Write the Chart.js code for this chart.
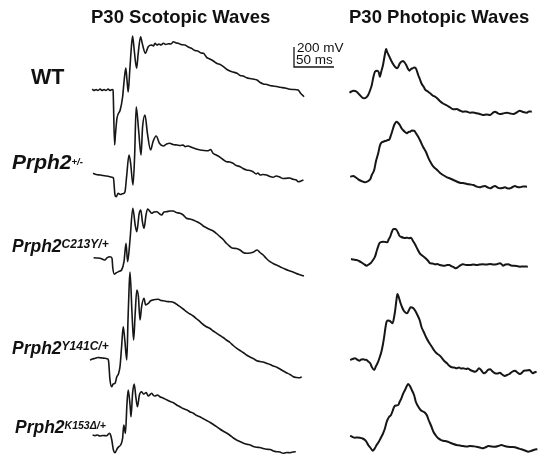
<!DOCTYPE html>
<html>
<head>
<meta charset="utf-8">
<script src="https://cdn.jsdelivr.net/npm/chart.js@4.4.0/dist/chart.umd.min.js"></script>
<style>
  html, body { margin: 0; padding: 0; background: #fff; }
  #fig { position: relative; width: 550px; height: 465px; overflow: hidden; font-family: "Liberation Sans", Arial, sans-serif; color: #111; }
  #fig canvas { position: absolute; left: 0; top: 0; }
  .txt { position: absolute; white-space: nowrap; line-height: 1; }
  .b { font-weight: bold; }
  .it { font-style: italic; }
  .sup { position: relative; }
</style>
</head>
<body>
<div id="fig"></div>
<script>
// ---- data (time in ms from flash, amplitude in mV) ----
const panelTitles = ['P30 Scotopic Waves', 'P30 Photopic Waves'];
const genotypes = ['WT', 'Prph2', 'Prph2', 'Prph2', 'Prph2'];
const genotypeSup = ['', '+/-', 'C213Y/+', 'Y141C/+', 'K153\u0394/+'];
const scaleBar = { mV: 200, ms: 50 };

const wtScot = [[-26,10],[-24,-5],[-21,5],[-19,-5],[-16,10],[-14,-5],[-11,5],[-9,-5],[-6,10],[-4,-5],[-1,5],[0,0],[2,-550],[3,-450],[5,-280],[9,-200],[12,-70],[14,100],[16,220],[17.5,100],[19,-20],[21,200],[23,433],[24.5,540],[26.5,400],[29.5,217],[31.5,367],[34.5,533],[36.5,467],[40.5,367],[44,433],[48.5,450],[50.5,440],[52.5,467],[55,450],[57.5,460],[60,450],[63,467],[66,455],[69,463],[72.5,460],[75.5,483],[79,470],[81.5,467],[85,455],[90,450],[94,430],[98,417],[102.5,395],[106,390],[110,370],[113,367],[117,327],[121,310],[125.5,290],[130,265],[134,255],[138,233],[142.5,205],[146,190],[150,180],[155,167],[159,145],[162.5,140],[167,123],[171,115],[175,110],[180,100],[184,75],[188,60],[192.5,55],[196,45],[200,40],[205,35],[209,27],[215,20],[221,7],[226,5],[231.5,0],[234.5,-33],[236,-45],[239,-67]];
const hetScot = [[-25,37],[-21,25],[-16,20],[-12.5,15],[-8,10],[-5,5],[-1.5,-3],[0.5,-10],[2.5,-180],[4,-197],[6.5,-163],[9,-175],[11,-170],[13,-165],[15,-147],[17,3],[20,220],[22,140],[25,-80],[27,203],[29,703],[32,470],[35,220],[37,503],[40,620],[43,437],[47,270],[50,353],[54,410],[58,337],[63,310],[67,330],[71,337],[75,325],[80,320],[84,315],[87.5,320],[90,303],[94,310],[98,297],[104,280],[109,270],[114,265],[119,263],[122,275],[125,237],[129,220],[134,197],[137.5,175],[142,153],[146,150],[150,137],[154,115],[159,103],[162.5,85],[167,70],[171,65],[175,53],[179,30],[181,40],[184,20],[187.5,25],[192,20],[196,5],[200,-3],[204,10],[209,-3],[212.5,-15],[217,-13],[221,-10],[225,-23],[229,-30],[231.5,-47],[235,-40],[238,-30]];
const c213yScot = [[-23,3],[-19,0],[-15,-3],[-11,-15],[-9,-20],[-6,3],[-2.5,13],[0,-3],[1,-100],[3,-163],[5,-150],[8,-137],[10,-130],[12,-120],[15,-37],[17.5,147],[19.5,-37],[22.5,180],[26,497],[29,330],[31,263],[34,447],[36,480],[38,363],[40,297],[42.5,430],[44.5,490],[47.5,465],[49.5,447],[52.5,460],[56,463],[59,445],[62,430],[65,460],[68,463],[72.5,470],[76.5,470],[80.5,455],[85,447],[89,430],[93,397],[97.5,390],[101.5,380],[105.5,365],[110,347],[114,320],[118,303],[122.5,285],[126.5,270],[130.5,245],[135,213],[139,185],[143,147],[147.5,115],[151.5,97],[155.5,95],[160,80],[164,55],[168,47],[172.5,50],[176.5,57],[181.5,80],[185,55],[189,30],[193,-5],[197.5,-37],[204,-65],[210,-87],[216,-110],[222.5,-130],[227.5,-145],[233,-163],[240,-180]];
const y141cScot = [[-22.5,-20],[-19.5,-10],[-16,-3],[-13,5],[-10,3],[-7,0],[-4,-3],[-1,-7],[0.5,-20],[2.5,-220],[4.5,-287],[6.5,-260],[9,-250],[11,-187],[13,-160],[15,-87],[17,113],[19,313],[21,180],[23.5,-20],[25,380],[26.5,730],[27.5,860],[30,447],[32,180],[34,447],[36,680],[38,613],[40,380],[42,513],[45,597],[47,530],[50.5,547],[53,570],[56,580],[59,585],[63,587],[66,575],[69,573],[73,565],[77.5,563],[80.5,560],[84,547],[87,530],[90,513],[94,490],[98,463],[102.5,440],[106.5,420],[111,390],[115,363],[119,335],[123,313],[127.5,295],[131.5,270],[136,247],[140,225],[144,205],[148,180],[152.5,155],[156.5,125],[161,97],[165,75],[169,55],[173,30],[177.5,10],[181.5,-5],[186,-27],[190,-35],[194,-40],[198,-53],[202.5,-65],[206.5,-80],[211,-93],[215,-110],[219,-130],[223,-147],[227.5,-165],[231.5,-187],[236,-195],[240,-197],[242,-187]];
const k153Scot = [[-23,0],[-20,-7],[-17,0],[-14,-10],[-10,-5],[-5.5,-7],[-2,17],[-0.5,0],[1,-50],[3,-150],[5,-177],[8,-133],[10,-115],[12,-100],[14.5,-33],[16,100],[18,17],[20,317],[21.5,450],[24,283],[25,183],[27,417],[29,510],[31,383],[33,283],[35.5,400],[38,433],[40,415],[41,410],[44,425],[46.5,390],[51,417],[53,395],[55,390],[58,400],[61,383],[65,370],[70,350],[74,335],[78,323],[82,300],[86,283],[90,265],[95,250],[99,230],[103,217],[107,195],[111,183],[115,165],[120,143],[124,125],[128,105],[132,83],[136,60],[140,40],[145,17],[149,-5],[153,-30],[157,-50],[161,-65],[165,-80],[170,-93],[174,-100],[178,-115],[182,-123],[186,-125],[190,-135],[195,-143],[199,-145],[203,-160],[207,-167],[211,-170],[215,-183],[219.5,-175],[224,-177],[227.5,-170],[231,-167]];

const wtPhot = [[-12,-7],[-9.5,5],[-7,13],[-5,10],[-3,3],[1,-30],[4,-55],[6,-63],[9,-55],[11.5,-30],[14,20],[16,70],[18,150],[20,203],[23,213],[25,190],[26,153],[28,210],[30,270],[32,360],[34,430],[35,405],[37,370],[39,335],[41,303],[43,275],[45,253],[48,237],[51,287],[55,310],[57,295],[59,270],[61,235],[63,213],[65,230],[67,237],[69,245],[71,237],[74,170],[76,130],[78,87],[81,50],[82.5,27],[86,5],[89,-13],[92,-35],[95,-47],[98,-65],[101,-90],[105,-115],[110,-135],[114,-155],[118,-173],[122,-170],[126,-185],[130,-197],[134,-195],[139,-207],[143,-205],[147,-213],[151,-220],[155,-230],[159.5,-225],[164,-230],[167,-210],[170,-197],[173,-210],[176,-220],[180,-215],[185,-207],[189,-215],[193,-220],[197,-205],[201,-187],[205,-200],[210,-207],[212.5,-195],[216,-197]];
const hetPhot = [[-11,3],[-7,10],[-4,-5],[-1,-23],[3,-40],[7.5,-53],[10.5,-45],[14,-23],[16,20],[19,70],[21,150],[24,237],[26,310],[28,343],[31,355],[34,363],[36,370],[38,377],[40,420],[42,470],[44,520],[47,553],[49,540],[51,520],[53,490],[55,470],[57.5,450],[60,437],[62,450],[64,453],[66,465],[69,463],[71,440],[74,403],[77,355],[80,303],[84,245],[87,187],[90,140],[93,103],[97,75],[101,43],[105,20],[110,-3],[114,-15],[118,-30],[122,-45],[126,-57],[130,-60],[135,-70],[139,-75],[143,-80],[147,-95],[151,-103],[154,-95],[157.5,-90],[161,-105],[164,-113],[167,-100],[170,-90],[173,-105],[176,-113],[179,-110],[182.5,-103],[186,-115],[189,-113],[192,-100],[195,-90],[198,-100],[201,-103],[205,-95],[210,-97]];
const c213yPhot = [[-10,0],[-7,-5],[-3,-10],[0,-20],[3,-33],[6,-50],[9.5,-67],[12,-55],[14.5,-43],[17.5,-10],[20,23],[22.5,90],[25.5,157],[28,170],[30.5,173],[33,170],[35.5,167],[37,195],[39,223],[41,270],[43,300],[45,300],[47,290],[49,260],[50.5,233],[53,220],[55.5,213],[58,210],[60.5,213],[62.5,207],[65,213],[67.5,180],[70,147],[73,100],[76,57],[79,35],[82.5,13],[86,-15],[89,-43],[92,-45],[95,-53],[98,-50],[101,-60],[104,-65],[107.5,-67],[110,-60],[113,-60],[115,-70],[117,-77],[119,-85],[121,-93],[124,-80],[126,-67],[130,-53],[134,-60],[139,-60],[143,-55],[147,-60],[151,-55],[155,-53],[159.5,-55],[164,-50],[168,-55],[172,-53],[176,-43],[178,-50],[180,-67],[183,-55],[186.5,-53],[190,-65],[193,-67],[197,-70],[201,-77],[206,-75],[211,-77]];
const y141cPhot = [[-11,0],[-8,10],[-5,17],[-2.5,5],[0.5,-7],[3,5],[5.5,7],[7.5,2],[9.5,0],[11.5,-15],[14,-33],[16,-70],[19,-100],[21,-65],[24,-17],[26,30],[28,83],[30,160],[31.5,233],[33,320],[34.5,383],[36,395],[38,393],[40,380],[42,367],[44,435],[45,483],[46.5,580],[48,660],[50,620],[52,567],[54,525],[56,493],[58,475],[60,467],[62.5,500],[64.5,527],[66,525],[68,517],[70.5,490],[73,450],[76,395],[78,333],[81,280],[84.5,217],[87.5,175],[91,133],[94,95],[97,67],[100,50],[103,27],[106,-5],[110,-33],[112.5,-55],[116,-73],[119,-75],[122,-83],[125,-75],[127.5,-85],[130,-83],[134,-90],[136,-85],[139,-100],[142,-110],[145,-117],[147.5,-105],[150,-83],[153,-105],[156,-133],[159,-120],[161,-100],[164,-93],[167,-115],[170,-133],[173,-135],[176,-127],[179,-145],[182.5,-160],[185,-150],[188,-140],[191,-120],[195,-107],[198,-125],[201,-140],[204,-125],[206,-107],[209,-105],[213,-100],[215,-115],[217,-133],[219,-125],[222,-117]];
const k153Phot = [[-11,3],[-8,-10],[-5,-17],[-2,-15],[1,-17],[4.5,-25],[7.5,-40],[9.5,-60],[11.5,-90],[14.5,-120],[17,-147],[20,-120],[22,-90],[25,-55],[27,-23],[30,25],[32.5,77],[34,125],[35.5,160],[37.5,190],[40,210],[42,250],[44,293],[46,305],[49,310],[51,345],[53,377],[55,420],[57.5,460],[59.5,495],[61.5,520],[64,495],[66,460],[69,405],[71,343],[74,295],[77,260],[80,245],[82.5,233],[85,205],[87,160],[90,105],[93,43],[96,5],[99,-23],[102,-38],[105,-47],[110,-55],[114,-67],[118,-80],[122,-90],[126,-95],[130,-100],[135,-105],[139,-100],[143,-103],[147,-107],[151,-115],[155,-123],[159,-110],[161.5,-100],[166,-105],[170,-107],[174,-100],[178,-90],[182,-100],[186,-107],[190,-110],[195,-113],[199,-123],[203,-133],[207.5,-145],[211.5,-157],[215,-150],[218,-140],[220,-135],[223,-133]];

const scotopic = [wtScot, hetScot, c213yScot, y141cScot, k153Scot];
const photopic = [wtPhot, hetPhot, c213yPhot, y141cPhot, k153Phot];

// ---- layout (pixels) ----
const W = 550, H = 465;
const PX_PER_MS = 0.8;   // 50 ms ~ 40 px
const PX_PER_MV = 0.1;   // 200 mV ~ 20 px
const scotOrigins = [[113, 90], [113, 177], [112, 258], [108, 358], [111, 435]];
const photOrigins = [[359, 92], [359, 177], [359, 259], [359, 360], [359, 436]];
const scaleBarAt = [226.25, 230]; // ms, mV in the WT scotopic frame
const labelPos = [
  { left: 31, base: 85.5, size: 21.5, supSize: 0, supUp: 0 },
  { left: 12, base: 168.3, size: 21, supSize: 9.5, supUp: 4 },
  { left: 12, base: 253.3, size: 17.5, supSize: 12, supUp: 4 },
  { left: 12, base: 355, size: 17.5, supSize: 12, supUp: 4.3 },
  { left: 15, base: 434, size: 17.5, supSize: 10.5, supUp: 4 }
];

const fig = document.getElementById('fig');

function addText(html, left, base, size, cls) {
  const d = document.createElement('div');
  d.className = 'txt ' + (cls || '');
  d.style.left = left + 'px';
  d.style.top = (base - 0.8465 * size) + 'px';
  d.style.fontSize = size + 'px';
  d.innerHTML = html;
  fig.appendChild(d);
}

function traceChart(series, origin, lineWidth, extra) {
  const cv = document.createElement('canvas');
  cv.width = W; cv.height = H;
  fig.appendChild(cv);
  const ox = origin[0], oy = origin[1];
  const datasets = [{
    data: series.map(p => ({ x: p[0], y: p[1] })),
    borderColor: '#161616',
    borderWidth: lineWidth,
    pointRadius: 0,
    cubicInterpolationMode: 'monotone',
    fill: false
  }];
  if (extra) datasets.push(extra);
  new Chart(cv, {
    type: 'line',
    data: { datasets: datasets },
    options: {
      responsive: false,
      devicePixelRatio: 1,
      animation: false,
      events: [],
      layout: { padding: 0 },
      plugins: { legend: { display: false }, tooltip: { enabled: false } },
      scales: {
        x: { type: 'linear', display: false, min: -ox / PX_PER_MS, max: (W - ox) / PX_PER_MS },
        y: { type: 'linear', display: false, min: -(H - oy) / PX_PER_MV, max: oy / PX_PER_MV }
      }
    }
  });
}

// scale bar drawn as a dataset in the WT scotopic frame
const bar = {
  data: [
    { x: scaleBarAt[0], y: scaleBarAt[1] + scaleBar.mV },
    { x: scaleBarAt[0], y: scaleBarAt[1] },
    { x: scaleBarAt[0] + scaleBar.ms, y: scaleBarAt[1] }
  ],
  borderColor: '#161616',
  borderWidth: 1.3,
  pointRadius: 0,
  tension: 0,
  fill: false
};

scotopic.forEach((s, i) => traceChart(s, scotOrigins[i], 1.6, i === 0 ? bar : null));
photopic.forEach((s, i) => traceChart(s, photOrigins[i], 2.0, null));

// titles
addText(panelTitles[0], 91, 23.3, 18.5, 'b');
addText(panelTitles[1], 349, 23.3, 18.5, 'b');

// scale bar text
addText(scaleBar.mV + ' mV', 297, 52.5, 13.5, '');
addText(scaleBar.ms + ' ms', 296, 64.5, 13.5, '');

// genotype labels
genotypes.forEach((g, i) => {
  const p = labelPos[i];
  let html = g;
  if (genotypeSup[i]) {
    html += '<span class="sup" style="font-size:' + p.supSize + 'px;top:-' + p.supUp + 'px">' + genotypeSup[i] + '</span>';
  }
  addText(html, p.left, p.base, p.size, i === 0 ? 'b' : 'b it');
});
</script>
</body>
</html>
